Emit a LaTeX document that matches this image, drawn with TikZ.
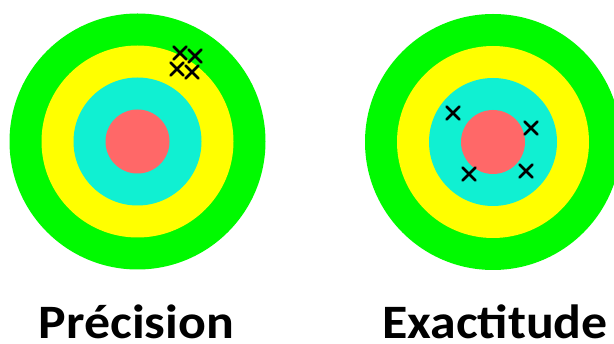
\documentclass[tikz,border=0pt]{standalone}
\usepackage{fontspec}
\setmainfont{Carlito}
\newfontfamily\labelfont[FakeStretch=1.08]{Carlito}
\definecolor{ringgreen}{RGB}{0,250,0}
\definecolor{ringyellow}{RGB}{255,255,0}
\definecolor{ringcyan}{RGB}{16,240,210}
\definecolor{ringred}{RGB}{255,104,104}
\tikzset{
  hit/.style={black, line width=2.7pt, line cap=round},
  label/.style={font=\labelfont\bfseries\fontsize{48}{56}\selectfont, anchor=base, inner sep=0pt, text depth=0pt}
}
\newcommand{\mytarget}[2]{%
  \fill[ringgreen] (#1,#2) circle (128);
  \fill[ringyellow] (#1,#2) circle (96);
  \fill[ringcyan] (#1,#2) circle (64);
  \fill[ringred] (#1,#2) circle (32);
}
\newcommand{\myhit}[2]{%
  \draw[hit] (#1-6.5,#2-6.5) -- (#1+6.5,#2+6.5) (#1-6.5,#2+6.5) -- (#1+6.5,#2-6.5);
}
\begin{document}
\begin{tikzpicture}[x=1pt,y=-1pt]
\useasboundingbox (0,0) rectangle (614,344);
\begin{scope}
\clip (0,0) rectangle (614,344);
\mytarget{137.5}{141.5}
\mytarget{493}{142}
\myhit{180}{53}
\myhit{195}{56}
\myhit{177}{69}
\myhit{192}{72}
\myhit{453}{113}
\myhit{531}{128}
\myhit{469}{174}
\myhit{526}{171}
\end{scope}
\node[label] (prec) at (136.5,339) {Précision};
\node[label] (exac) at (495,339) {Exactitude};
\end{tikzpicture}
\end{document}
